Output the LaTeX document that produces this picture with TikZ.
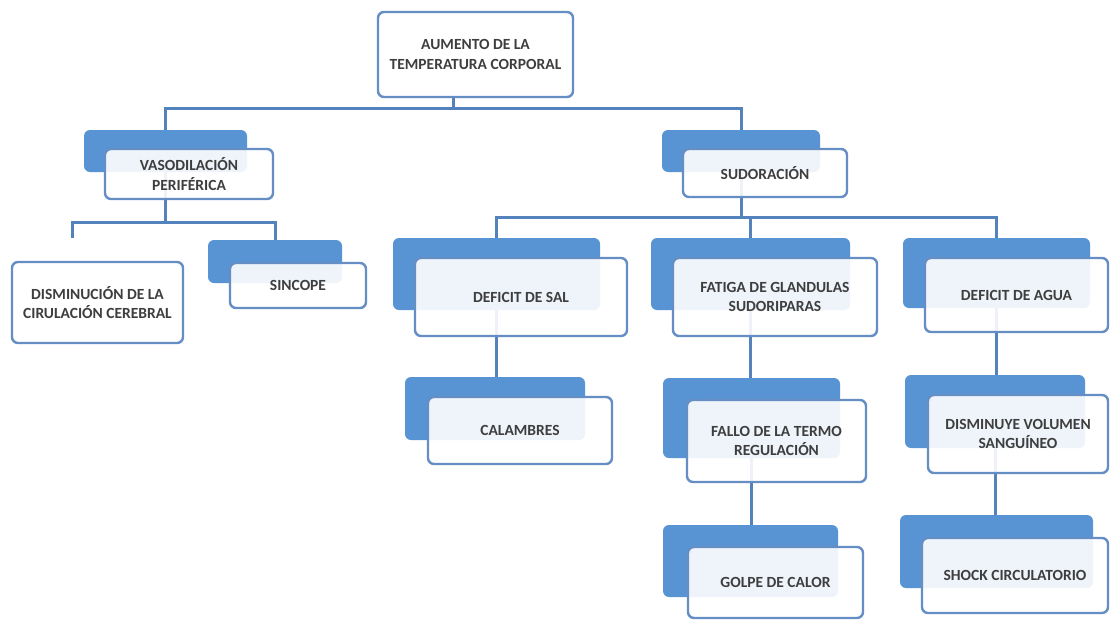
\documentclass[tikz,border=0pt]{standalone}
\usepackage{fontspec}
\setmainfont{Carlito}
\usetikzlibrary{backgrounds}
\definecolor{backblue}{RGB}{88,148,212}
\definecolor{edgeblue}{RGB}{100,142,196}
\definecolor{connblue}{RGB}{84,130,188}
\definecolor{txt}{RGB}{62,62,62}
\tikzset{
  backbox/.style={draw=none, fill=backblue, rounded corners=6pt, inner sep=0pt, outer sep=0pt},
  frontbox/.style={draw=edgeblue, line width=2.4pt, fill=white, fill opacity=0.9, text opacity=1,
    rounded corners=6pt, inner sep=0pt, outer sep=0pt, align=center, text=txt,
    font=\fontsize{15.5}{19.5}\selectfont\bfseries},
  solobox/.style={frontbox, fill opacity=1},
  conn/.style={draw=connblue, line width=3pt}
}
\begin{document}
\begin{tikzpicture}[x=1pt,y=-1pt]
\useasboundingbox (0,0) rectangle (1110,619);

% top
\node[solobox, minimum width=195pt, minimum height=85pt] (top) at (475.5,54.5) {AUMENTO DE LA\\TEMPERATURA CORPORAL};

% vasodilacion
\node[backbox, minimum width=163pt, minimum height=42pt] (vasob) at (165.5,151) {};
\node[frontbox, minimum width=168pt, minimum height=50pt] (vaso) at (189,174) {VASODILACIÓN\\PERIFÉRICA};

% sudoracion
\node[backbox, minimum width=158pt, minimum height=42pt] (sudob) at (741,151) {};
\node[frontbox, minimum width=164pt, minimum height=48pt] (sudo) at (765,173) {SUDORACIÓN};

% disminucion
\node[solobox, minimum width=171pt, minimum height=81pt] (dism) at (97.5,302.5) {DISMINUCIÓN DE LA\\CIRULACIÓN CEREBRAL};

% sincope
\node[backbox, minimum width=134pt, minimum height=43pt] (sincb) at (275,261.5) {};
\node[frontbox, minimum width=136pt, minimum height=45pt] (sinc) at (298,285.5) {SINCOPE};

% deficit de sal
\node[backbox, minimum width=207pt, minimum height=72pt] (salb) at (496.5,274) {};
\node[frontbox, minimum width=212pt, minimum height=78pt] (sal) at (521,297) {DEFICIT DE SAL};

% fatiga
\node[backbox, minimum width=199pt, minimum height=72pt] (fatb) at (750.5,274) {};
\node[frontbox, minimum width=204pt, minimum height=78pt] (fat) at (775,297) {FATIGA DE GLANDULAS\\SUDORIPARAS};

% deficit de agua
\node[backbox, minimum width=187pt, minimum height=70pt] (aguab) at (996.5,273) {};
\node[frontbox, minimum width=183pt, minimum height=74pt] (agua) at (1016.5,295) {DEFICIT DE AGUA};

% calambres
\node[backbox, minimum width=180pt, minimum height=63pt] (calamb) at (495,408.5) {};
\node[frontbox, minimum width=184pt, minimum height=67pt] (calam) at (520,430.5) {CALAMBRES};

% fallo
\node[backbox, minimum width=177pt, minimum height=80pt] (fallob) at (751.5,418) {};
\node[frontbox, minimum width=179pt, minimum height=82pt] (fallo) at (776.5,441) {FALLO DE LA TERMO\\REGULACIÓN};

% golpe de calor
\node[backbox, minimum width=175pt, minimum height=72pt] (golpeb) at (750.5,561) {};
\node[frontbox, minimum width=175pt, minimum height=71pt] (golpe) at (775.5,582.5) {GOLPE DE CALOR};

% disminuye volumen
\node[backbox, minimum width=180pt, minimum height=73pt] (dvolb) at (995,411.5) {};
\node[frontbox, minimum width=180pt, minimum height=78pt] (dvol) at (1018,434) {DISMINUYE VOLUMEN\\SANGUÍNEO};

% shock
\node[backbox, minimum width=193pt, minimum height=73pt] (shockb) at (996.5,551.5) {};
\node[frontbox, minimum width=186pt, minimum height=75pt] (shock) at (1015,575.5) {SHOCK CIRCULATORIO};

\coordinate (j0) at (453,108);
\coordinate (j1) at (165.5,222);
\coordinate (dtop) at (72,238);
\coordinate (j2) at (741,217);

\begin{pgfonlayer}{background}
\fill[white] (0,0) rectangle (1110,619);
\draw[conn] (top.south -| j0) -- (j0);
\draw[conn] (vasob.north) |- (j0) -| (sudob.north);
\draw[conn] (vasob.south) -- (j1);
\draw[conn] (dtop) |- (j1) -| (sincb.north);
\draw[conn] (sudob.south) -- (j2);
\draw[conn] (salb.north) |- (j2) -| (aguab.north);
\draw[conn] (fatb.north) -- (fatb.north |- j2);
\draw[conn] (salb.south) -- (salb.south |- calamb.north);
\draw[conn] (fatb.south) -- (fatb.south |- fallob.north);
\draw[conn] (fallob.south) -- (fallob.south |- golpeb.north);
\draw[conn] (aguab.south) -- (aguab.south |- dvolb.north);
\draw[conn] (dvolb.south) -- (dvolb.south |- shockb.north);
\end{pgfonlayer}
\end{tikzpicture}
\end{document}
